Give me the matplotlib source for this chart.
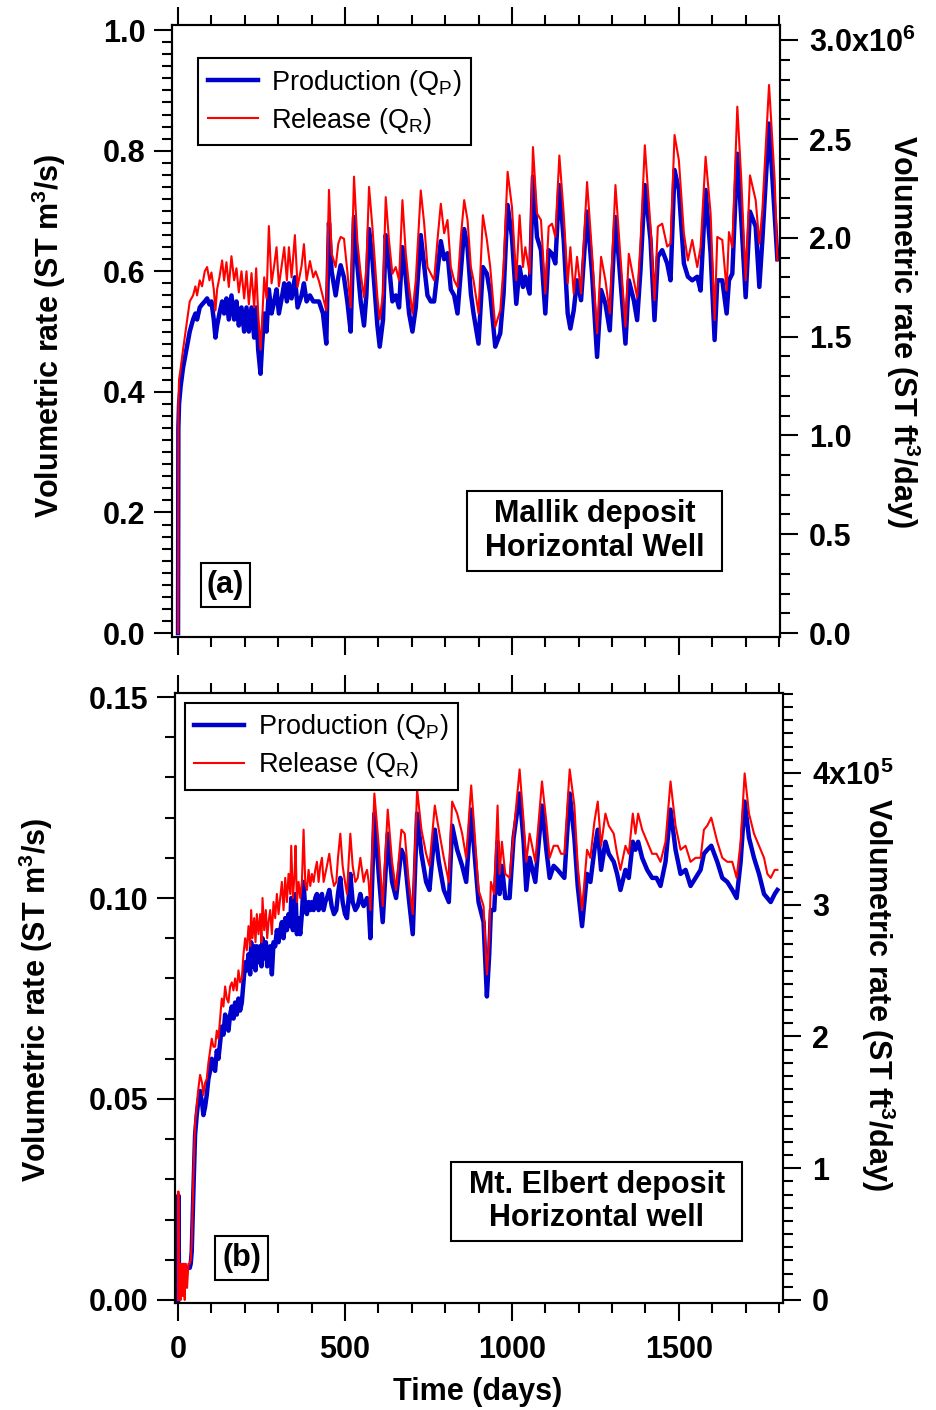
import matplotlib
matplotlib.use("Agg")
import matplotlib.pyplot as plt
from matplotlib.ticker import MultipleLocator, FuncFormatter, FormatStrFormatter
from matplotlib.patches import Rectangle

plt.rcParams['font.family'] = ['Liberation Sans', 'DejaVu Sans']
plt.rcParams['font.weight'] = 'bold'
plt.rcParams['axes.labelweight'] = 'bold'
plt.rcParams['mathtext.fontset'] = 'custom'
plt.rcParams['mathtext.rm'] = 'Liberation Sans:normal'
plt.rcParams['mathtext.bf'] = 'Liberation Sans:bold'
plt.rcParams['mathtext.default'] = 'bf'

# (a) Mallik deposit, horizontal well
days_a = [0, 1, 3, 8, 15, 25, 35, 45, 52, 57, 65, 72, 80, 87, 94, 100, 107, 112, 117, 124,
          132, 138, 145, 152, 160, 168, 175, 182, 190, 198, 205, 212, 220, 228, 234, 240, 247,
          252, 258, 265, 272, 280, 288, 295, 302, 312, 318, 326, 332, 340, 350, 358, 370, 377,
          385, 395, 405, 412, 422, 434, 444, 452, 460, 472, 480, 487, 497, 507, 517, 527, 537,
          547, 557, 564, 572, 582, 597, 604, 614, 622, 632, 642, 652, 662, 672, 682, 692, 702,
          712, 727, 737, 747, 757, 767, 777, 787, 797, 807, 817, 827, 837, 847, 857, 867, 877,
          885, 900, 913, 925, 935, 950, 965, 975, 987, 1000, 1013, 1023, 1033, 1040, 1053, 1063,
          1075, 1087, 1100, 1110, 1120, 1130, 1142, 1155, 1167, 1175, 1185, 1195, 1207, 1225,
          1240, 1255, 1267, 1280, 1293, 1310, 1325, 1340, 1350, 1365, 1375, 1385, 1398, 1415,
          1427, 1437, 1450, 1465, 1475, 1487, 1500, 1515, 1527, 1540, 1555, 1565, 1580, 1595,
          1607, 1615, 1630, 1643, 1650, 1660, 1675, 1687, 1700, 1713, 1730, 1741, 1750, 1770,
          1787, 1795]
release_a = [0.0, 0.38, 0.42, 0.44, 0.47, 0.51, 0.55, 0.56, 0.575, 0.56, 0.585, 0.575, 0.60,
             0.607, 0.585, 0.598, 0.57, 0.535, 0.57, 0.59, 0.618, 0.585, 0.615, 0.574, 0.625,
             0.585, 0.605, 0.565, 0.60, 0.555, 0.60, 0.545, 0.597, 0.54, 0.605, 0.53, 0.47,
             0.52, 0.59, 0.555, 0.675, 0.58, 0.61, 0.64, 0.575, 0.615, 0.64, 0.585, 0.64, 0.59,
             0.66, 0.574, 0.609, 0.645, 0.585, 0.617, 0.59, 0.60, 0.584, 0.557, 0.535, 0.735,
             0.63, 0.607, 0.646, 0.657, 0.654, 0.60, 0.54, 0.757, 0.65, 0.596, 0.557, 0.607,
             0.74, 0.674, 0.557, 0.52, 0.563, 0.723, 0.65, 0.596, 0.607, 0.585, 0.718, 0.63,
             0.574, 0.53, 0.585, 0.734, 0.68, 0.607, 0.596, 0.585, 0.652, 0.712, 0.663, 0.685,
             0.607, 0.585, 0.574, 0.657, 0.718, 0.685, 0.607, 0.585, 0.53, 0.693, 0.652, 0.607,
             0.508, 0.535, 0.607, 0.765, 0.707, 0.585, 0.693, 0.607, 0.64, 0.596, 0.806, 0.696,
             0.685, 0.563, 0.674, 0.679, 0.657, 0.792, 0.696, 0.58, 0.64, 0.563, 0.624, 0.563,
             0.748, 0.629, 0.497, 0.624, 0.585, 0.53, 0.743, 0.624, 0.508, 0.629, 0.585, 0.557,
             0.646, 0.809, 0.674, 0.552, 0.674, 0.679, 0.641, 0.646, 0.826, 0.784, 0.663, 0.618,
             0.652, 0.607, 0.64, 0.790, 0.696, 0.519, 0.657, 0.652, 0.568, 0.665, 0.64, 0.873,
             0.751, 0.585, 0.759, 0.718, 0.646, 0.701, 0.909, 0.751, 0.618]
production_a = [0.0, 0.34, 0.38, 0.41, 0.44, 0.47, 0.50, 0.52, 0.53, 0.52, 0.54, 0.545, 0.55,
                0.555, 0.545, 0.55, 0.52, 0.49, 0.51, 0.53, 0.55, 0.53, 0.555, 0.52, 0.56,
                0.52, 0.55, 0.51, 0.54, 0.50, 0.54, 0.50, 0.54, 0.49, 0.54, 0.47, 0.43, 0.48,
                0.53, 0.50, 0.57, 0.53, 0.55, 0.57, 0.53, 0.56, 0.58, 0.55, 0.58, 0.555, 0.59,
                0.54, 0.56, 0.58, 0.55, 0.56, 0.55, 0.55, 0.55, 0.53, 0.48, 0.68, 0.60, 0.56,
                0.59, 0.61, 0.59, 0.55, 0.50, 0.69, 0.61, 0.55, 0.51, 0.56, 0.67, 0.62, 0.51,
                0.475, 0.52, 0.66, 0.61, 0.55, 0.56, 0.54, 0.64, 0.59, 0.53, 0.50, 0.54, 0.66,
                0.61, 0.56, 0.55, 0.55, 0.60, 0.65, 0.62, 0.63, 0.57, 0.56, 0.53, 0.60, 0.67,
                0.64, 0.563, 0.53, 0.48, 0.607, 0.596, 0.563, 0.475, 0.497, 0.563, 0.71, 0.657,
                0.546, 0.607, 0.574, 0.591, 0.563, 0.757, 0.657, 0.635, 0.53, 0.635, 0.629,
                0.613, 0.743, 0.652, 0.53, 0.505, 0.535, 0.585, 0.552, 0.699, 0.596, 0.458,
                0.569, 0.546, 0.502, 0.69, 0.585, 0.48, 0.585, 0.552, 0.519, 0.602, 0.743, 0.652,
                0.519, 0.624, 0.635, 0.613, 0.585, 0.768, 0.735, 0.613, 0.591, 0.585, 0.591,
                0.568, 0.735, 0.63, 0.486, 0.585, 0.585, 0.53, 0.585, 0.596, 0.795, 0.685, 0.557,
                0.699, 0.674, 0.574, 0.652, 0.845, 0.69, 0.62]

# (b) Mt. Elbert deposit, horizontal well
days_b = [0, 1, 3, 5, 8, 11, 14, 17, 20, 23, 27, 31, 35, 38, 41, 46, 51, 56, 60, 66, 72, 76,
          81, 86, 91, 96, 101, 106, 111, 116, 121, 126, 131, 136, 141, 146, 151, 156, 161, 166,
          171, 176, 181, 186, 191, 196, 201, 206, 211, 216, 219, 223, 228, 232, 236, 241, 246,
          250, 253, 258, 263, 267, 271, 276, 281, 286, 291, 296, 301, 306, 311, 316, 321, 326,
          331, 336, 339, 344, 349, 352, 356, 361, 366, 371, 376, 381, 386, 391, 396, 401, 406,
          411, 416, 421, 426, 431, 436, 441, 446, 453, 460, 467, 474, 479, 486, 493, 500, 506,
          511, 516, 523, 531, 538, 546, 551, 556, 561, 566, 571, 576, 581, 588, 601, 613, 628,
          641, 653, 669, 679, 691, 703, 716, 729, 743, 753, 769, 781, 796, 811, 821, 836, 851,
          863, 878, 885, 900, 915, 925, 932, 937, 947, 957, 963, 970, 980, 993, 1005, 1023,
          1035, 1043, 1053, 1070, 1090, 1103, 1113, 1125, 1137, 1147, 1157, 1173, 1187, 1197,
          1210, 1225, 1235, 1247, 1257, 1267, 1280, 1290, 1305, 1315, 1325, 1340, 1350, 1362,
          1370, 1378, 1390, 1405, 1420, 1433, 1445, 1460, 1475, 1490, 1505, 1520, 1535, 1550,
          1565, 1575, 1585, 1597, 1615, 1630, 1645, 1660, 1673, 1685, 1697, 1710, 1725, 1740,
          1755, 1765, 1775, 1787, 1795]
release_b = [0.0, 0.027, 0.0, 0.009, 0.0, 0.009, 0.001, 0.009, 0.0, 0.009, 0.003, 0.009, 0.009,
             0.010, 0.014, 0.031, 0.044, 0.048, 0.052, 0.056, 0.054, 0.051, 0.054, 0.055, 0.059,
             0.062, 0.065, 0.063, 0.063, 0.067, 0.065, 0.070, 0.075, 0.073, 0.078, 0.075, 0.074,
             0.078, 0.079, 0.077, 0.080, 0.077, 0.082, 0.079, 0.080, 0.086, 0.090, 0.087, 0.093,
             0.088, 0.097, 0.090, 0.095, 0.089, 0.096, 0.091, 0.096, 0.089, 0.100, 0.092, 0.097,
             0.090, 0.094, 0.097, 0.091, 0.099, 0.095, 0.101, 0.096, 0.100, 0.104, 0.097, 0.105,
             0.099, 0.106, 0.101, 0.113, 0.100, 0.106, 0.113, 0.099, 0.104, 0.100, 0.104, 0.117,
             0.104, 0.102, 0.107, 0.103, 0.106, 0.104, 0.107, 0.109, 0.104, 0.108, 0.110, 0.104,
             0.106, 0.108, 0.111, 0.106, 0.103, 0.104, 0.110, 0.116, 0.108, 0.104, 0.101, 0.109,
             0.116, 0.108, 0.104, 0.105, 0.110, 0.107, 0.104, 0.106, 0.107, 0.104, 0.097, 0.110,
             0.126, 0.113, 0.098, 0.122, 0.109, 0.102, 0.117, 0.116, 0.104, 0.096, 0.127, 0.117,
             0.111, 0.108, 0.123, 0.117, 0.110, 0.104, 0.124, 0.121, 0.116, 0.110, 0.128, 0.120,
             0.102, 0.098, 0.081, 0.090, 0.104, 0.101, 0.123, 0.106, 0.114, 0.106, 0.105, 0.116,
             0.132, 0.119, 0.109, 0.116, 0.109, 0.129, 0.119, 0.110, 0.113, 0.113, 0.111, 0.111,
             0.132, 0.123, 0.108, 0.097, 0.112, 0.110, 0.119, 0.124, 0.113, 0.121, 0.118, 0.116,
             0.111, 0.107, 0.113, 0.111, 0.121, 0.116, 0.121, 0.117, 0.114, 0.111, 0.111, 0.109,
             0.114, 0.129, 0.118, 0.112, 0.113, 0.109, 0.110, 0.110, 0.117, 0.118, 0.120, 0.114,
             0.110, 0.109, 0.109, 0.105, 0.114, 0.131, 0.121, 0.116, 0.113, 0.110, 0.106, 0.105,
             0.107, 0.107]
production_b = [0.0, 0.026, 0.004, 0.008, 0.006, 0.008, 0.007, 0.008, 0.007, 0.008, 0.008,
                0.008, 0.008, 0.009, 0.012, 0.027, 0.041, 0.046, 0.049, 0.052, 0.049, 0.046,
                0.048, 0.051, 0.055, 0.057, 0.060, 0.058, 0.057, 0.062, 0.060, 0.064, 0.068,
                0.066, 0.071, 0.068, 0.067, 0.071, 0.073, 0.070, 0.074, 0.071, 0.075, 0.072,
                0.074, 0.079, 0.084, 0.082, 0.086, 0.081, 0.089, 0.083, 0.088, 0.082, 0.088,
                0.084, 0.088, 0.083, 0.090, 0.085, 0.089, 0.083, 0.087, 0.088, 0.081, 0.089,
                0.088, 0.092, 0.089, 0.092, 0.094, 0.090, 0.095, 0.092, 0.096, 0.093, 0.100,
                0.092, 0.096, 0.101, 0.091, 0.095, 0.091, 0.096, 0.104, 0.097, 0.096, 0.099,
                0.097, 0.099, 0.097, 0.100, 0.101, 0.097, 0.100, 0.101, 0.097, 0.099, 0.100,
                0.102, 0.098, 0.096, 0.097, 0.101, 0.105, 0.099, 0.096, 0.095, 0.100, 0.106,
                0.099, 0.097, 0.098, 0.101, 0.099, 0.098, 0.099, 0.100, 0.098, 0.090, 0.103,
                0.121, 0.106, 0.094, 0.116, 0.104, 0.100, 0.112, 0.110, 0.100, 0.091, 0.121,
                0.111, 0.104, 0.102, 0.117, 0.109, 0.102, 0.099, 0.118, 0.112, 0.108, 0.104,
                0.122, 0.114, 0.099, 0.094, 0.0755, 0.086, 0.097, 0.097, 0.114, 0.101, 0.108,
                0.100, 0.100, 0.115, 0.126, 0.114, 0.102, 0.110, 0.104, 0.123, 0.112, 0.105,
                0.108, 0.107, 0.106, 0.105, 0.126, 0.115, 0.103, 0.093, 0.106, 0.104, 0.112,
                0.117, 0.107, 0.114, 0.111, 0.109, 0.106, 0.102, 0.107, 0.105, 0.114, 0.112,
                0.114, 0.110, 0.107, 0.105, 0.105, 0.103, 0.109, 0.122, 0.112, 0.106, 0.107,
                0.103, 0.105, 0.107, 0.111, 0.112, 0.113, 0.109, 0.105, 0.104, 0.102, 0.100,
                0.109, 0.124, 0.115, 0.110, 0.106, 0.101, 0.100, 0.099, 0.101, 0.102]

# m3/s -> ft3/day for the right-hand scale
M3S_TO_FT3D = 35.3147 * 86400

BLUE = '#0000CC'
RED = '#FF0000'

fig = plt.figure(figsize=(9.37, 14.1), dpi=100)
ax1 = fig.add_axes([0.1836, 0.5482, 0.6489, 0.4340])
ax2 = fig.add_axes([0.1868, 0.0759, 0.6489, 0.4326])


def style_axes(ax):
    for sp in ax.spines.values():
        sp.set_linewidth(1.5)
    ax.tick_params(which='both', direction='out', width=1.5, labelsize=22)
    ax.tick_params(which='major', length=13)
    ax.tick_params(which='minor', length=7)


def right_axis(ax, lim, major, minor, fmt):
    axr = ax.twinx()
    axr.set_ylim(lim[0] * M3S_TO_FT3D, lim[1] * M3S_TO_FT3D)
    axr.yaxis.set_major_locator(MultipleLocator(major))
    axr.yaxis.set_minor_locator(MultipleLocator(minor))
    axr.yaxis.set_major_formatter(FuncFormatter(fmt))
    style_axes(axr)
    axr.tick_params(axis='y', pad=8)
    axr.set_ylabel(r'Volumetric rate (ST ft$^3$/day)', fontsize=22, rotation=270)
    return axr


def fmt_a(v, pos):
    if abs(v - 3.0e6) < 1:
        return r'3.0x10$^6$'
    return '%.1f' % (v / 1e6)


def fmt_b(v, pos):
    if abs(v - 4e5) < 1:
        return r'4x10$^5$'
    return '%d' % round(v / 1e5)


panels = [
    (ax1, days_a, production_a, release_a, (-18, 1803), (-0.0066, 1.0083), 0.2, 0.02, '%.1f',
     'Mallik deposit\nHorizontal Well', '(a)'),
    (ax2, days_b, production_b, release_b, (-9, 1812), (-0.00075, 0.151), 0.05, 0.01, '%.2f',
     'Mt. Elbert deposit\nHorizontal well', '(b)'),
]

for ax, d, qp, qr, xl, yl, maj, mnr, f, *_ in panels:
    ax.plot(d, qp, color=BLUE, lw=3.2, label=r'Production (Q$_\mathrm{P}$)')
    ax.plot(d, qr, color=RED, lw=1.5, label=r'Release (Q$_\mathrm{R}$)')
    ax.set_xlim(*xl)
    ax.set_ylim(*yl)
    ax.xaxis.set_major_locator(MultipleLocator(500))
    ax.xaxis.set_minor_locator(MultipleLocator(100))
    ax.yaxis.set_major_locator(MultipleLocator(maj))
    ax.yaxis.set_minor_locator(MultipleLocator(mnr))
    ax.yaxis.set_major_formatter(FormatStrFormatter(f))
    style_axes(ax)
    ax.tick_params(axis='x', which='both', top=True, bottom=True)
    ax.tick_params(axis='x', pad=10)
    ax.tick_params(axis='y', which='both', right=False, pad=6)
    ax.set_ylabel(r'Volumetric rate (ST m$^3$/s)', fontsize=22)

ax1.tick_params(axis='x', labelbottom=False)
ax2.set_xlabel('Time (days)', fontsize=22)
ax2.xaxis.set_label_coords(0.498, -0.121)
ax1.yaxis.set_label_coords(-0.171, 0.493)
ax2.yaxis.set_label_coords(-0.197, 0.497)

axr1 = right_axis(ax1, ax1.get_ylim(), 0.5e6, 0.1e6, fmt_a)
axr2 = right_axis(ax2, ax2.get_ylim(), 1e5, 1e4, fmt_b)
axr1.yaxis.set_label_coords(1.2336, 0.50)
axr2.yaxis.set_label_coords(1.1875, 0.505)

# legends
leg_kw = dict(loc='upper left', fancybox=False, framealpha=1, edgecolor='black',
              prop={'size': 19.5, 'weight': 'normal'}, handlelength=1.85, handletextpad=0.5,
              labelspacing=0.3, borderpad=0.35, borderaxespad=0)
lg1 = ax1.legend(bbox_to_anchor=(0.043, 0.946), **leg_kw)
lg2 = ax2.legend(bbox_to_anchor=(0.016, 0.984), **leg_kw)
for lg in (lg1, lg2):
    lg.get_frame().set_linewidth(1.5)
    lg.set_zorder(5)

# site boxes and panel tags
boxes = [
    (ax1, (0.485, 0.108, 0.420, 0.131), (0.0477, 0.049, 0.080, 0.072)),
    (ax2, (0.454, 0.1016, 0.479, 0.1294), (0.0658, 0.0377, 0.087, 0.072)),
]
for (ax, *_rest, site, tag), (_, sb, tb) in zip(panels, boxes):
    for x0, y0, w, h in (sb, tb):
        ax.add_patch(Rectangle((x0, y0), w, h, transform=ax.transAxes, fill=True,
                               facecolor='white', edgecolor='black', lw=1.5, zorder=4))
    ax.text(sb[0] + sb[2] / 2, sb[1] + sb[3] / 2, site, transform=ax.transAxes,
            ha='center', va='center', fontsize=22, linespacing=1.15, zorder=6)
    ax.text(tb[0] + tb[2] / 2, tb[1] + tb[3] / 2, tag, transform=ax.transAxes,
            ha='center', va='center', fontsize=22, zorder=6)

fig.savefig('out.png', dpi=100)
